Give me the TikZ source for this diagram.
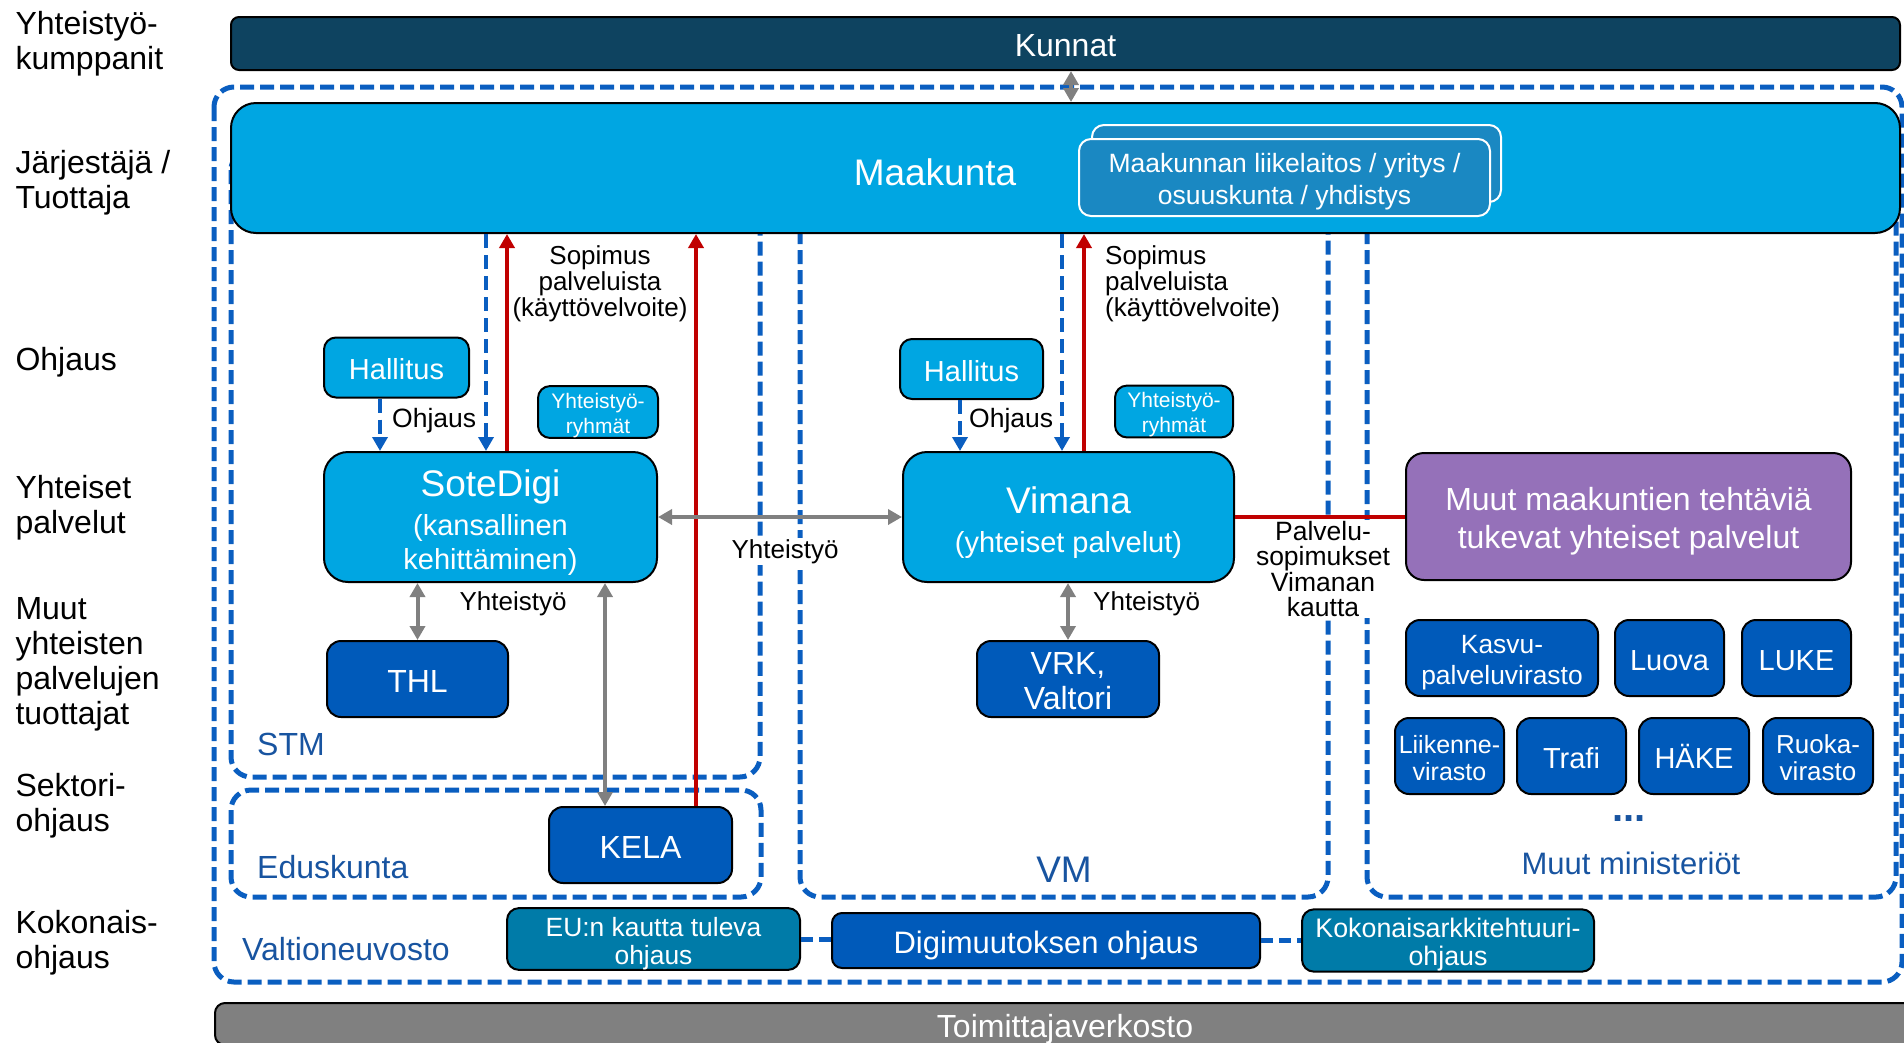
\documentclass[tikz,border=0pt]{standalone}
\usepackage{fontspec}
\setmainfont{Liberation Sans}
\usepackage{tikz}
\usetikzlibrary{arrows.meta}
\definecolor{kunnatblue}{RGB}{14,67,96}
\definecolor{maakcyan}{RGB}{0,166,226}
\definecolor{liikeblue}{RGB}{26,136,194}
\definecolor{virastoblue}{RGB}{0,90,186}
\definecolor{muutpurple}{RGB}{149,113,185}
\definecolor{ohjausteal}{RGB}{0,123,168}
\definecolor{vngray}{RGB}{128,128,128}
\definecolor{dashblue}{RGB}{10,94,192}
\definecolor{labelblue}{RGB}{24,84,160}
\definecolor{sopred}{RGB}{192,0,0}
\newcommand{\fsz}[2]{\fontsize{#1}{#2}\selectfont}
% struts so that text sits in the boxes like in the slide
\newcommand{\ylaraja}{\rule{0pt}{1.06em}}
\newcommand{\alaraja}{\rule[-0.22em]{0pt}{0pt}}
\tikzset{basic/.style={draw=black,line width=2pt,rounded corners=12pt,
                       text=white,align=center,inner sep=0pt}}
\tikzset{toimija/.style={basic,fill=maakcyan}}
\tikzset{virasto/.style={basic,fill=virastoblue,rounded corners=14pt}}
\tikzset{ohjausbox/.style={basic,fill=ohjausteal}}
\tikzset{sektori/.style={draw=dashblue,line width=5pt,
                         dash pattern=on 14pt off 6pt,rounded corners=20pt}}

\begin{document}
\begin{tikzpicture}[x=1pt,y=-1pt,>={Triangle[length=14pt,width=15pt]}]
    \tikzstyle{ohjaus}=[->,draw=dashblue,line width=4.5pt,dash pattern=on 14pt off 7pt]
    \tikzstyle{ohjausviiva}=[draw=dashblue,line width=5pt,dash pattern=on 12pt off 6pt]
    \tikzstyle{sopimus}=[draw=sopred,fill=sopred,line width=3.5pt]
    \tikzstyle{yhteistyo}=[<->,draw=vngray,fill=vngray,line width=4pt]
    \tikzstyle{annot}=[text=black,align=center,inner sep=1pt]
    \tikzstyle{taso}=[anchor=west,align=left,font=\fsz{32}{35}]
    \tikzstyle{sektorinimi}=[text=labelblue,inner sep=0pt]
    \useasboundingbox (0,0) rectangle (1904,1042);

    % Draw the level names on the left
    \foreach \txt / \y [count=\i] in {{Yhteistyö-\\kumppanit}/44,{Järjestäjä /\\Tuottaja}/183,
            Ohjaus/362.5,{Yhteiset\\palvelut}/507.5,{Muut\\yhteisten\\palvelujen\\tuottajat}/664.5,
            {Sektori-\\ohjaus}/805.5,{Kokonais-\\ohjaus}/942.5}
        \node[taso] (taso-\i) at (12,\y) {\txt};

    % Draw the dashed areas of the ministries
    \draw[sektori] (214,87) rectangle (1902,982);
    \draw[sektori] (231,150) rectangle (760,777);
    \draw[sektori] (231,790) rectangle (761,897);
    \draw[sektori] (800,150) rectangle (1328,897);
    \draw[sektori] (1367,150) rectangle (1896,897);

    % Partners and organiser
    \node[basic,fill=kunnatblue,rounded corners=8pt,minimum width=1669pt,minimum height=53pt,
          font=\fsz{32}{32}] (kunnat) at (1065.5,43.5) {\ylaraja Kunnat\alaraja};
    \node[toimija,rounded corners=25pt,minimum width=1669pt,minimum height=130pt] (maakunta) at (1065.5,168) {};
    \node[text=white,inner sep=0pt,font=\fsz{37}{37}] (maakunta-nimi) at (935,170) {\ylaraja Maakunta\alaraja};
    \node[basic,fill=liikeblue,draw=white,minimum width=409pt,minimum height=77pt] (liike-taka) at (1296.5,163.5) {};
    \node[basic,fill=liikeblue,draw=white,minimum width=411pt,minimum height=77pt,
          font=\fsz{26.5}{32}] (liike) at (1284.5,177.5) {\ylaraja Maakunnan liikelaitos / yritys /\\osuuskunta / yhdistys\alaraja};

    % Common services and their steering
    \node[toimija,minimum width=145pt,minimum height=60pt,font=\fsz{29}{29}] (hal-1) at (396.5,367.5) {\ylaraja Hallitus\alaraja};
    \node[toimija,minimum width=143pt,minimum height=60pt,font=\fsz{29}{29}] (hal-2) at (971.5,369) {\ylaraja Hallitus\alaraja};
    \node[toimija,minimum width=120pt,minimum height=51pt,font=\fsz{21}{25}] (ryhmat-1) at (598,412) {\ylaraja Yhteistyö-\\ryhmät\alaraja};
    \node[toimija,minimum width=118pt,minimum height=51pt,font=\fsz{21}{25}] (ryhmat-2) at (1174,411.5) {\ylaraja Yhteistyö-\\ryhmät\alaraja};
    \node[toimija,rounded corners=24pt,minimum width=333pt,minimum height=130pt,font=\fsz{29}{34}]
        (sote) at (490.5,517) {{\fsz{37}{37}\ylaraja SoteDigi}\\[5pt](kansallinen\\kehittäminen)\alaraja};
    \node[toimija,rounded corners=24pt,minimum width=331pt,minimum height=130pt,font=\fsz{29}{34}]
        (vimana) at (1068.5,517) {{\fsz{37}{37}\ylaraja Vimana}\\[5pt](yhteiset palvelut)\alaraja};
    \node[basic,fill=muutpurple,rounded corners=18pt,minimum width=445pt,minimum height=127pt,font=\fsz{32}{38}]
        (muut) at (1628.5,516.5) {\ylaraja Muut maakuntien tehtäviä\\tukevat yhteiset palvelut\alaraja};

    % Other producers of common services
    \node[virasto,minimum width=181pt,minimum height=76pt,font=\fsz{32}{32}] (thl) at (417.5,679) {\ylaraja THL\alaraja};
    \node[virasto,minimum width=183pt,minimum height=76pt,font=\fsz{32}{32}] (kela) at (640.5,845) {\ylaraja KELA\alaraja};
    \node[virasto,minimum width=182pt,minimum height=76pt,font=\fsz{32}{35}] (vrk) at (1068,679) {\ylaraja VRK,\\Valtori\alaraja};
    \foreach \name / \x / \y / \w / \fs / \bs / \txt in {kasvu/1502/658/192/26.4/31/{Kasvu-\\palveluvirasto},
            luova/1669.5/658/109/29/29/Luova,luke/1796.5/658/109/29/29/LUKE,
            liikenne/1449.5/756/109/25/27/{Liikenne-\\virasto},trafi/1571.5/756/109/29/29/Trafi,
            hake/1694/756/110/29/29/HÄKE,ruoka/1818/756/110/26/27/{Ruoka-\\virasto}}
        \node[virasto,minimum width=\w pt,minimum height=76pt,font=\fsz{\fs}{\bs}] (\name) at (\x,\y) {\ylaraja\txt\alaraja};
    \node[text=labelblue,font=\fsz{40}{40}\bfseries] (lisaa) at (1629,819) {...};

    % Names of the areas
    \node[sektorinimi,anchor=base west,font=\fsz{32}{32}] (stm) at (257,755) {STM};
    \node[sektorinimi,anchor=base west,font=\fsz{32}{32}] (eduskunta) at (257,878) {Eduskunta};
    \node[sektorinimi,font=\fsz{37}{37}] (vm) at (1064,870) {VM};
    \node[sektorinimi,font=\fsz{31}{31}] (ministeriot) at (1631,863) {Muut ministeriöt};
    \node[sektorinimi,anchor=west,font=\fsz{32}{32}] (vn) at (242,949) {Valtioneuvosto};

    % Overall steering
    \node[ohjausbox,minimum width=293pt,minimum height=56pt,font=\fsz{26.4}{28}] (eu) at (653.5,939) {\ylaraja EU:n kautta tuleva\\ohjaus\alaraja};
    \node[virasto,rounded corners=10pt,minimum width=428pt,minimum height=55pt,font=\fsz{31}{31}] (digi) at (1046,940.5) {\ylaraja Digimuutoksen ohjaus\alaraja};
    \node[ohjausbox,minimum width=292pt,minimum height=55pt,font=\fsz{26.8}{28}] (koko) at (1448,940.5) {\ylaraja Kokonaisarkkitehtuuri-\\ohjaus\alaraja};
    \node[basic,fill=vngray,rounded corners=10pt,minimum width=1700pt,minimum height=42pt,
          font=\fsz{32}{32}] (toimittajat) at (1065,1024) {\ylaraja Toimittajaverkosto\alaraja};

    % Steering arrows
    \draw[ohjaus] ([xshift=-16.5pt]hal-1.south) -- ([xshift=-16.5pt]hal-1.south |- sote.north);
    \draw[ohjaus] ([xshift=-4.5pt]sote.north |- maakunta.south) -- ([xshift=-4.5pt]sote.north);
    \draw[ohjaus] ([xshift=-11.5pt]hal-2.south) -- ([xshift=-11.5pt]hal-2.south |- vimana.north);
    \draw[ohjaus] ([xshift=-6.5pt]vimana.north |- maakunta.south) -- ([xshift=-6.5pt]vimana.north);

    % Agreements on services
    \draw[sopimus,->] ([xshift=16.5pt]sote.north) -- ([xshift=16.5pt]sote.north |- maakunta.south);
    \draw[sopimus,->] ([xshift=55.5pt]kela.north) -- ([xshift=55.5pt]kela.north |- maakunta.south);
    \draw[sopimus,->] ([xshift=15.5pt]vimana.north) -- ([xshift=15.5pt]vimana.north |- maakunta.south);
    \draw[sopimus] (vimana.east) -- (vimana.east -| muut.west);

    % Co-operation
    \draw[yhteistyo] ([xshift=5.5pt]kunnat.south) -- ([xshift=5.5pt]kunnat.south |- maakunta.north);
    \draw[yhteistyo] (sote.south -| thl.north) -- (thl.north);
    \draw[yhteistyo] ([xshift=-35.5pt]kela.north |- sote.south) -- ([xshift=-35.5pt]kela.north);
    \draw[yhteistyo] (sote.east) -- (vimana.west);
    \draw[yhteistyo] (vimana.south -| vrk.north) -- (vrk.north);
    \draw[ohjausviiva] (eu.east) -- (eu.east -| digi.west);
    \draw[ohjausviiva] (digi.east) -- (koko.west);

    % Labels of the connectors
    \node[annot,font=\fsz{26}{26}] (sop-1) at (600,284) {Sopimus\\palveluista\\(käyttövelvoite)};
    \node[annot,anchor=west,align=left,font=\fsz{26}{26}] (sop-2) at (1104,284) {Sopimus\\palveluista\\(käyttövelvoite)};
    \node[annot,anchor=west,font=\fsz{26.5}{26.5}] (ohj-1) at (391,420.5) {Ohjaus};
    \node[annot,anchor=west,font=\fsz{26.5}{26.5}] (ohj-2) at (968,420.5) {Ohjaus};
    \node[annot,font=\fsz{26}{26}] (yht-1) at (513,604) {Yhteistyö};
    \node[annot,fill=white,font=\fsz{26}{26}] (yht-2) at (785,551.5) {Yhteistyö};
    \node[annot,anchor=west,font=\fsz{26}{26}] (yht-3) at (1092,603.5) {Yhteistyö};
    \node[annot,fill=white,font=\fsz{26.5}{25.3}] (palv) at (1323,569) {Palvelu-\\sopimukset\\Vimanan\\kautta};
\end{tikzpicture}
\end{document}
